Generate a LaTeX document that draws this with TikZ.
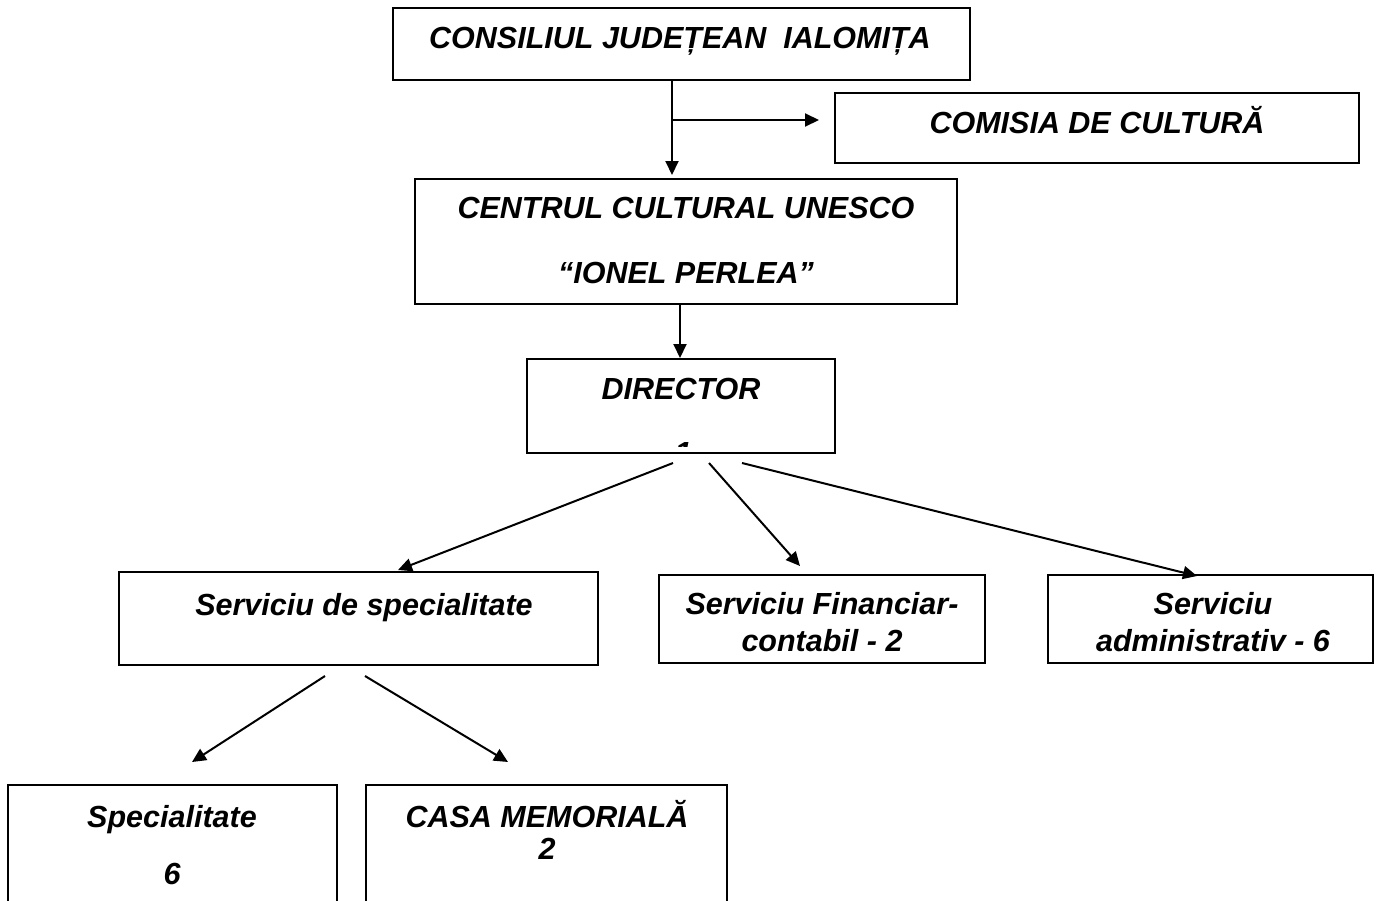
\documentclass[tikz,border=0pt]{standalone}
\usepackage{fontspec}
\setmainfont{Liberation Sans}
\usetikzlibrary{arrows.meta}
\tikzset{
  box/.style={draw=black, line width=2pt, rectangle, inner sep=0pt},
  txt/.style={anchor=base, inner sep=0pt, font=\fontsize{30.5}{36}\selectfont\bfseries\itshape},
  arr/.style={line width=2pt, -{Triangle[length=14pt,width=13pt]}}
}
\begin{document}
\begin{tikzpicture}[x=1pt,y=-1pt]
\useasboundingbox (0,0) rectangle (1382,900);
\clip (0,0) rectangle (1382,900);
% boxes
\node[box, minimum width=577pt, minimum height=72pt] (cons) at (681.5,44) {};
\node[box, minimum width=524pt, minimum height=70pt] (com) at (1097,128) {};
\node[box, minimum width=542pt, minimum height=125pt] (cen) at (686,241.5) {};
\node[box, minimum width=308pt, minimum height=94pt] (dir) at (681,406) {};
\node[box, minimum width=479pt, minimum height=93pt] (spec) at (358.5,618.5) {};
\node[box, minimum width=326pt, minimum height=88pt] (fin) at (822,619) {};
\node[box, minimum width=325pt, minimum height=88pt] (adm) at (1210.5,619) {};
\node[box, minimum width=329pt, minimum height=130pt] (sp) at (172.5,850) {};
\node[box, minimum width=361pt, minimum height=130pt] (casa) at (546.5,850) {};
% texts
\node[txt] (t-cons) at (680,48) {CONSILIUL JUDEȚEAN\ \ IALOMIȚA};
\node[txt] (t-com) at (1097,133) {COMISIA DE CULTURĂ};
\node[txt] (t-cen1) at (686,218) {CENTRUL CULTURAL UNESCO};
\node[txt] (t-cen2) at (686,283) {“IONEL PERLEA”};
\node[txt] (t-dir) at (681,399) {DIRECTOR};
\begin{scope}
\clip (600,440) rectangle (760,446);
\node[txt] (t-dir1) at (683,463) {1};
\end{scope}
\node[txt] (t-spec) at (364,615) {Serviciu de specialitate};
\node[txt] (t-fin1) at (822,614) {Serviciu Financiar-};
\node[txt] (t-fin2) at (822,651) {contabil - 2};
\node[txt] (t-adm1) at (1213,614) {Serviciu};
\node[txt] (t-adm2) at (1213,651) {administrativ - 6};
\node[txt] (t-sp1) at (172,827) {Specialitate};
\node[txt] (t-sp2) at (172,884) {6};
\node[txt] (t-casa1) at (547,827) {CASA MEMORIALĂ};
\node[txt] (t-casa2) at (547,859) {2};
% connectors
\coordinate (j) at (672,120);
\draw[arr, shorten >=3pt] (j |- cons.south) -- (j |- cen.north);
\draw[arr, shorten >=15pt] (j) -- (com.west |- j);
\draw[arr] (680,0 |- cen.south) -- (680,0 |- dir.north);
\coordinate (d1) at (673,463);
\coordinate (d2) at (709,463);
\coordinate (d3) at (742,463);
\coordinate (e1) at (398,570);
\coordinate (e2) at (800,566);
\coordinate (e3) at (1197,576);
\draw[arr] (d1) -- (e1);
\draw[arr] (d2) -- (e2);
\draw[arr] (d3) -- (e3);
\coordinate (s1) at (325,676);
\coordinate (s2) at (365,676);
\coordinate (f1) at (192,762);
\coordinate (f2) at (508,762);
\draw[arr] (s1) -- (f1);
\draw[arr] (s2) -- (f2);
\end{tikzpicture}
\end{document}
